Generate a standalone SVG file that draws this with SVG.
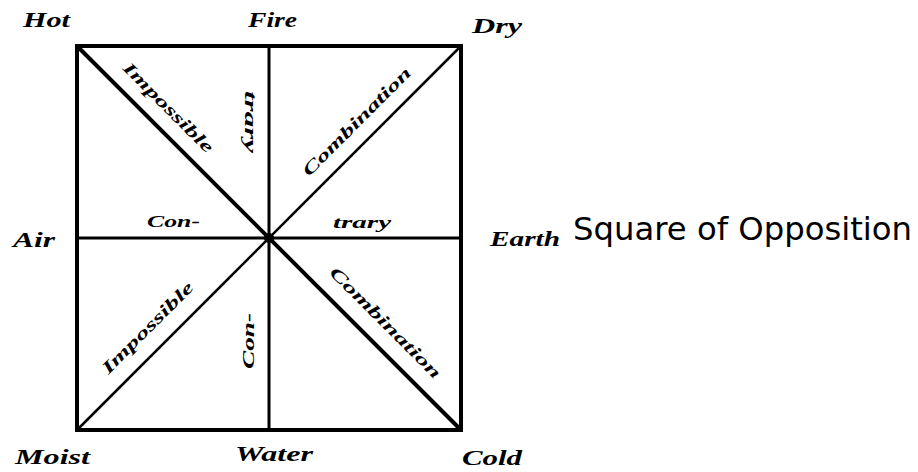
<svg xmlns="http://www.w3.org/2000/svg" width="918" height="472" viewBox="0 0 918 472">
<style>
.lbl{font-family:"Liberation Serif","Times New Roman",serif;font-weight:bold;font-style:italic;font-size:20px;fill:#000}
.in{font-family:"Liberation Serif","Times New Roman",serif;font-weight:bold;font-style:italic;font-size:17px;fill:#000}
.title{font-family:"DejaVu Sans","Noto Sans",sans-serif;font-size:32px;fill:#000}
.ln{stroke:#000;fill:none}
</style>
<rect width="918" height="472" fill="#fff"/>
<g id="connectors">
<rect class="ln" x="77" y="46" width="384" height="384" stroke-width="4"/>
<line class="ln" x1="269" y1="46" x2="269" y2="430" stroke-width="3"/>
<line class="ln" x1="77" y1="238" x2="461" y2="238" stroke-width="3"/>
<line class="ln" x1="77" y1="46" x2="461" y2="430" stroke-width="4"/>
<line class="ln" x1="461" y1="46" x2="77" y2="430" stroke-width="2.5"/>
<circle cx="269" cy="238" r="5" fill="#000"/>
</g>
<g id="hot"><text class="lbl" x="23" y="27" textLength="47" lengthAdjust="spacingAndGlyphs">Hot</text></g>
<g id="fire"><text class="lbl" x="248" y="27" textLength="49" lengthAdjust="spacingAndGlyphs">Fire</text></g>
<g id="dry"><text class="lbl" x="472" y="33" textLength="50" lengthAdjust="spacingAndGlyphs">Dry</text></g>
<g id="air"><text class="lbl" x="13" y="247" textLength="42" lengthAdjust="spacingAndGlyphs">Air</text></g>
<g id="earth"><text class="lbl" x="490" y="246" textLength="70" lengthAdjust="spacingAndGlyphs">Earth</text></g>
<g id="moist"><text class="lbl" x="15" y="464" textLength="75" lengthAdjust="spacingAndGlyphs">Moist</text></g>
<g id="water"><text class="lbl" x="235" y="461" textLength="78" lengthAdjust="spacingAndGlyphs">Water</text></g>
<g id="cold"><text class="lbl" x="462" y="465" textLength="60" lengthAdjust="spacingAndGlyphs">Cold</text></g>
<g id="inner-labels">
<text class="in" transform="translate(168,108) rotate(45)" x="-60" y="5" textLength="120" lengthAdjust="spacingAndGlyphs">Impossible</text>
<text class="in" transform="translate(250,122) rotate(90)" x="-31" y="5" textLength="62" lengthAdjust="spacingAndGlyphs">trary</text>
<text class="in" transform="translate(357,122) rotate(-45)" x="-73" y="5" textLength="146" lengthAdjust="spacingAndGlyphs">Combination</text>
<text class="in" x="147" y="227" textLength="53" lengthAdjust="spacingAndGlyphs">Con-</text>
<text class="in" x="333" y="228" textLength="58" lengthAdjust="spacingAndGlyphs">trary</text>
<text class="in" transform="translate(148,328) rotate(-45)" x="-61" y="5" textLength="122" lengthAdjust="spacingAndGlyphs">Impossible</text>
<text class="in" transform="translate(249,341) rotate(-90)" x="-28" y="5" textLength="56" lengthAdjust="spacingAndGlyphs">Con-</text>
<text class="in" transform="translate(385,323) rotate(45)" x="-75" y="5" textLength="150" lengthAdjust="spacingAndGlyphs">Combination</text>
</g>
<g id="title"><text class="title" x="573" y="240" textLength="339" lengthAdjust="spacingAndGlyphs">Square of Opposition</text></g>
</svg>
